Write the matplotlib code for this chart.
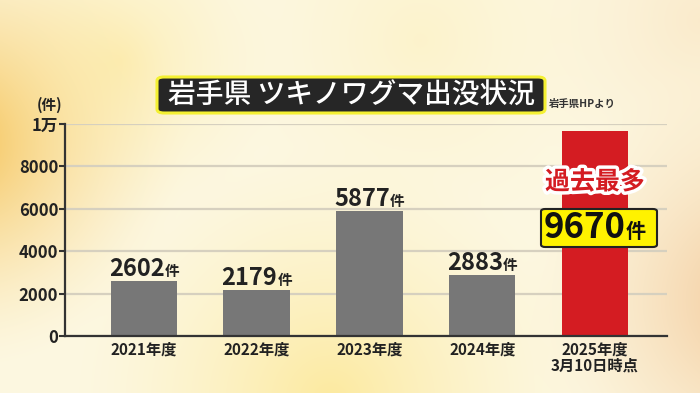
import numpy as np
import matplotlib
matplotlib.use('Agg')
import matplotlib.pyplot as plt
import matplotlib.patheffects as pe
from matplotlib.patches import FancyBboxPatch

plt.rcParams['font.family'] = ['Noto Sans CJK JP', 'DejaVu Sans']

# data
years = ['2021年度', '2022年度', '2023年度', '2024年度', '2025年度\n3月10日時点']
counts = [2602, 2179, 5877, 2883, 9670]
bar_colors = ['#777777', '#777777', '#777777', '#777777', '#d41c22']
yticks = [0, 2000, 4000, 6000, 8000, 10000]
ytick_labels = ['0', '2000', '4000', '6000', '8000', '1万']

fig = plt.figure(figsize=(7, 3.93), dpi=100)

# soft warm background
bg = fig.add_axes([0, 0, 1, 1], zorder=-10)
h, w = 393, 700
yy, xx = np.mgrid[0:h, 0:w]
base = np.array([0.99, 0.97, 0.88])
img = np.ones((h, w, 3)) * base


def blob(cx, cy, r, col, strength):
    global img
    d = np.sqrt((xx - cx) ** 2 + (yy - cy) ** 2) / r
    a = np.clip(1 - d, 0, 1) ** 1.5 * strength
    img = img * (1 - a[..., None]) + np.array(col) * a[..., None]


blob(-40, 140, 230, [0.96, 0.74, 0.28], 0.9)
blob(120, 60, 170, [0.99, 0.90, 0.55], 0.5)
blob(330, 400, 260, [0.99, 0.88, 0.45], 0.6)
blob(760, 300, 240, [0.94, 0.72, 0.50], 0.75)
blob(700, 20, 200, [0.97, 0.86, 0.70], 0.45)
blob(420, 40, 200, [0.99, 0.93, 0.70], 0.45)
bg.imshow(img, aspect='auto', extent=[0, 1, 0, 1])
bg.set_axis_off()

ax = fig.add_axes([0.093, 0.145, 0.860, 0.5395])
ax.set_facecolor('none')
x = np.arange(len(years))
ax.bar(x, counts, width=0.59, color=bar_colors, zorder=3)

ax.set_xlim(-0.7, 4.64)
ax.set_ylim(0, 10000)
ax.set_yticks(yticks)
ax.set_yticklabels(ytick_labels, fontsize=12, fontweight='bold', color='#222222')
ax.set_xticks(x)
ax.set_xticklabels(years, fontsize=11, fontweight='bold', color='#222222',
                   linespacing=1.0)
ax.tick_params(axis='x', length=0, pad=4)
ax.tick_params(axis='y', length=4, width=1.5, color='#333333', pad=1)
ax.grid(axis='y', color='#d6d0bf', linewidth=1.6, zorder=0)
for s in ['top', 'right']:
    ax.spines[s].set_visible(False)
for s in ['left', 'bottom']:
    ax.spines[s].set_linewidth(1.6)
    ax.spines[s].set_color('#333333')
    ax.spines[s].set_zorder(4)

# value labels for the grey bars: big number + small 件
fig.canvas.draw()
renderer = fig.canvas.get_renderer()
for i in range(4):
    t1 = ax.annotate(str(counts[i]), (x[i], counts[i]), xytext=(0, 2),
                     textcoords='offset points', ha='left', va='bottom',
                     fontsize=17, fontweight='bold', color='#222222', zorder=5)
    t2 = ax.annotate('件', (x[i], counts[i]), xytext=(0, 2.5),
                     textcoords='offset points', ha='left', va='bottom',
                     fontsize=10.5, fontweight='bold', color='#222222', zorder=5)
    w1 = t1.get_window_extent(renderer).width
    w2 = t2.get_window_extent(renderer).width
    tot = (w1 + w2) * 72 / fig.dpi
    t1.set_position((-tot / 2, 0))
    t2.set_position((-tot / 2 + w1 * 72 / fig.dpi, 1.5))

# record-high callout on the red bar
ax.annotate('過去最多', (x[4], 7250), ha='center', va='center', fontsize=18,
            fontweight='bold', color='#d41c22', zorder=6,
            path_effects=[pe.withStroke(linewidth=5, foreground='white')])
n = ax.annotate(str(counts[4]), (x[4], 5140), ha='left', va='center', fontsize=25,
                fontweight='bold', color='#111111', zorder=7)
k = ax.annotate('件', (x[4], 5140), ha='left', va='center', fontsize=14.5,
                fontweight='bold', color='#111111', zorder=7)
wn = n.get_window_extent(renderer).width
wk = k.get_window_extent(renderer).width
tot = (wn + wk) * 72 / fig.dpi
n.xyann = (-tot / 2, 0)
n.set_anncoords('offset points')
k.xyann = (-tot / 2 + wn * 72 / fig.dpi, -3)
k.set_anncoords('offset points')
box = FancyBboxPatch((541 / 700, 1 - 247 / 393), 116 / 700, 38 / 393,
                     boxstyle='round,pad=0,rounding_size=0.006',
                     transform=fig.transFigure, facecolor='#fff200',
                     edgecolor='#222222', linewidth=1.5, zorder=6)
ax.add_artist(box)
box.set_clip_on(False)

# title plate
title_box = FancyBboxPatch((157 / 700, 1 - 113 / 393), 388 / 700, 36 / 393,
                           boxstyle='round,pad=0,rounding_size=0.01',
                           transform=fig.transFigure, facecolor='#262626',
                           edgecolor='#f4f032', linewidth=2.2)
fig.patches.append(title_box)
fig.text(351 / 700, 1 - 95 / 393, '岩手県 ツキノワグマ出没状況', ha='center',
         va='center', fontsize=20, fontweight='medium', color='white')
fig.text(549 / 700, 1 - 104 / 393, '岩手県HPより', ha='left', va='center',
         fontsize=7.5, fontweight='bold', color='#333333')
fig.text(50 / 700, 1 - 105 / 393, '(件)', ha='center', va='center',
         fontsize=10.5, fontweight='bold', color='#222222')

fig.savefig('out.png', dpi=100)
